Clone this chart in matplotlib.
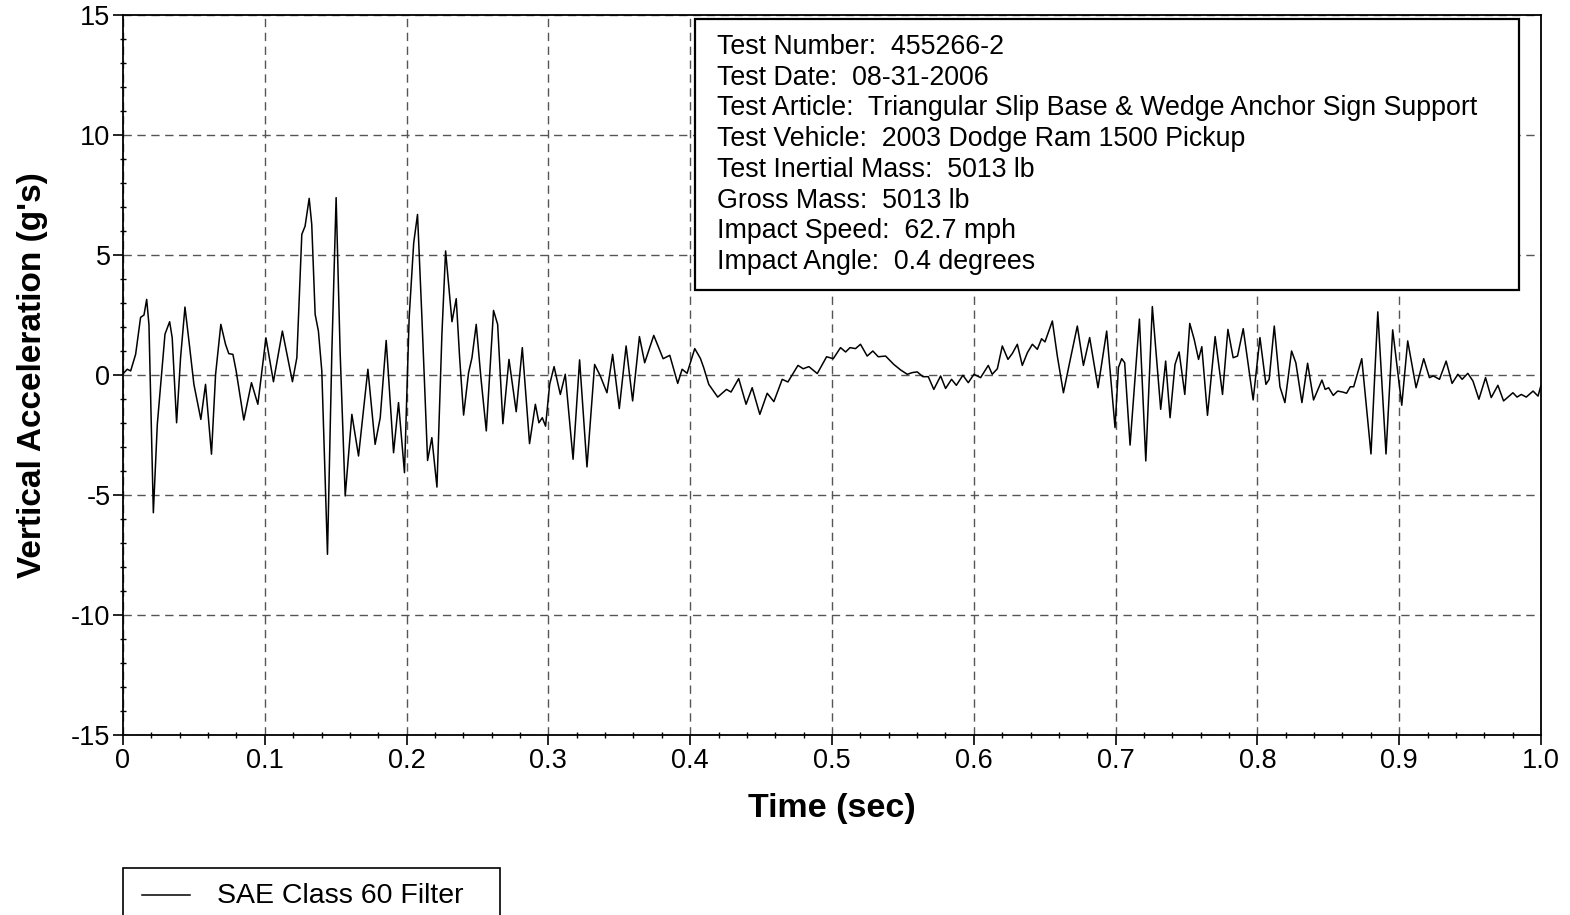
import matplotlib
matplotlib.use("Agg")
import matplotlib.pyplot as plt
from matplotlib.patches import Rectangle
from matplotlib.lines import Line2D
from matplotlib.ticker import MultipleLocator

plt.rcParams['font.family'] = ['Liberation Sans', 'DejaVu Sans']
plt.rcParams['axes.unicode_minus'] = False

# Vertical acceleration trace (SAE Class 60 filtered)
time_sec = [
    0.000, 0.003, 0.0054, 0.0089, 0.0124, 0.0148, 0.0167, 0.0183, 0.0214, 0.0242,
    0.0296, 0.0329, 0.0347, 0.0378, 0.0406, 0.0437, 0.0465, 0.0500, 0.0549, 0.0582,
    0.0624, 0.0653, 0.0690, 0.0723, 0.0746, 0.0775, 0.0798, 0.0852, 0.0906, 0.0951,
    0.1008, 0.1061, 0.1124, 0.1195, 0.1226, 0.1261, 0.1284, 0.1313, 0.1331, 0.1355,
    0.1378, 0.1402, 0.1442, 0.1473, 0.1503, 0.1531, 0.1567, 0.1614, 0.1661, 0.1727,
    0.1778, 0.1814, 0.1856, 0.1908, 0.1943, 0.1985, 0.2018, 0.2050, 0.2077, 0.2108,
    0.2148, 0.2178, 0.2214, 0.2249, 0.2275, 0.2296, 0.2320, 0.2350, 0.2374, 0.2402,
    0.2437, 0.2461, 0.2491, 0.2524, 0.2562, 0.2613, 0.2642, 0.2679, 0.2722, 0.2773,
    0.2816, 0.2867, 0.2908, 0.2933, 0.2957, 0.2980, 0.3009, 0.3040, 0.3084, 0.3119,
    0.3174, 0.3220, 0.3272, 0.3326, 0.3366, 0.3413, 0.3453, 0.3500, 0.3548, 0.3594,
    0.3642, 0.3679, 0.3743, 0.3809, 0.3856, 0.3912, 0.3943, 0.3978, 0.4032, 0.4072,
    0.4095, 0.4131, 0.4194, 0.4256, 0.4288, 0.4342, 0.4394, 0.4437, 0.4491, 0.4543,
    0.4590, 0.4649, 0.4689, 0.4760, 0.4797, 0.4837, 0.4896, 0.4962, 0.5009, 0.5060,
    0.5096, 0.5127, 0.5166, 0.5201, 0.5248, 0.5288, 0.5326, 0.5378, 0.5436, 0.5484,
    0.5531, 0.5566, 0.5601, 0.5641, 0.5679, 0.5718, 0.5766, 0.5801, 0.5843, 0.5877,
    0.5923, 0.5961, 0.6001, 0.6048, 0.6102, 0.6130, 0.6166, 0.6201, 0.6241, 0.6272,
    0.6307, 0.6342, 0.6378, 0.6413, 0.6448, 0.6478, 0.6502, 0.6554, 0.6589, 0.6632,
    0.6678, 0.6730, 0.6773, 0.6817, 0.6876, 0.6937, 0.6996, 0.7020, 0.7043, 0.7064,
    0.7102, 0.7168, 0.7213, 0.7259, 0.7318, 0.7353, 0.7384, 0.7419, 0.7448, 0.7488,
    0.7523, 0.7554, 0.7585, 0.7608, 0.7648, 0.7702, 0.7754, 0.7792, 0.7829, 0.7860,
    0.7900, 0.7970, 0.8018, 0.8060, 0.8083, 0.8119, 0.8159, 0.8194, 0.8241, 0.8271,
    0.8314, 0.8354, 0.8396, 0.8455, 0.8478, 0.8502, 0.8535, 0.8566, 0.8601, 0.8629,
    0.8655, 0.8679, 0.8736, 0.8801, 0.8849, 0.8907, 0.8954, 0.9018, 0.9060, 0.9119,
    0.9173, 0.9213, 0.9241, 0.9284, 0.9331, 0.9373, 0.9414, 0.9444, 0.9484, 0.9520,
    0.9562, 0.9609, 0.9649, 0.9696, 0.9736, 0.9802, 0.9831, 0.9861, 0.9896, 0.9944,
    0.9979, 1.0000,
]
accel_g = [
    0.05, 0.24, 0.17, 0.86, 2.40, 2.50, 3.15, 2.10, -5.74, -2.05,
    1.70, 2.22, 1.55, -1.99, 0.72, 2.83, 1.42, -0.39, -1.85, -0.39,
    -3.30, 0.03, 2.11, 1.28, 0.89, 0.86, 0.17, -1.875, -0.32, -1.22,
    1.55, -0.28, 1.83, -0.28, 0.72, 5.86, 6.20, 7.36, 6.28, 2.53,
    1.83, 0.17, -7.47, 1.00, 7.39, 1.00, -5.04, -1.64, -3.375, 0.24,
    -2.89, -1.78, 1.44, -3.24, -1.15, -4.07, 2.39, 5.50, 6.69, 2.39,
    -3.56, -2.61, -4.67, 1.69, 5.17, 3.78, 2.22, 3.18, 0.72, -1.67,
    0.10, 0.72, 2.11, -0.11, -2.33, 2.69, 2.11, -2.03, 0.65, -1.53,
    1.14, -2.86, -1.22, -1.99, -1.78, -2.13, -0.39, 0.35, -0.81, 0.03,
    -3.51, 0.63, -3.83, 0.44, -0.04, -0.74, 0.86, -1.40, 1.21, -1.08,
    1.60, 0.51, 1.65, 0.68, 0.82, -0.35, 0.24, 0.07, 1.10, 0.69,
    0.31, -0.39, -0.92, -0.60, -0.71, -0.15, -1.22, -0.53, -1.64, -0.76,
    -1.11, -0.18, -0.29, 0.40, 0.26, 0.35, 0.06, 0.76, 0.68, 1.14,
    0.96, 1.14, 1.10, 1.28, 0.79, 1.00, 0.76, 0.79, 0.44, 0.21,
    0.03, 0.10, 0.13, -0.07, -0.07, -0.60, -0.04, -0.56, -0.18, -0.43,
    -0.01, -0.32, 0.03, -0.11, 0.40, 0.03, 0.26, 1.21, 0.65, 0.90,
    1.28, 0.40, 0.93, 1.28, 1.07, 1.51, 1.38, 2.25, 0.79, -0.74,
    0.58, 2.04, 0.40, 1.56, -0.53, 1.83, -2.19, 0.31, 0.68, 0.51,
    -2.92, 2.33, -3.58, 2.85, -1.43, 0.58, -1.78, 0.44, 0.96, -0.81,
    2.15, 1.49, 0.65, 1.18, -1.68, 1.60, -0.81, 1.90, 0.72, 0.79,
    1.93, -1.04, 1.56, -0.39, -0.18, 2.04, -0.49, -1.15, 1.00, 0.51,
    -1.15, 0.49, -1.04, -0.21, -0.60, -0.53, -0.85, -0.67, -0.71, -0.76,
    -0.49, -0.49, 0.68, -3.29, 2.63, -3.29, 1.88, -1.26, 1.42, -0.53,
    0.68, -0.11, -0.04, -0.18, 0.58, -0.35, 0.03, -0.18, 0.07, -0.25,
    -1.01, -0.11, -0.94, -0.43, -1.08, -0.74, -0.92, -0.81, -0.92, -0.67,
    -0.88, -0.43,
]

x_ticks = [0, 0.1, 0.2, 0.3, 0.4, 0.5, 0.6, 0.7, 0.8, 0.9, 1.0]
x_tick_labels = ["0", "0.1", "0.2", "0.3", "0.4", "0.5", "0.6", "0.7", "0.8", "0.9", "1.0"]
y_ticks = [-15, -10, -5, 0, 5, 10, 15]

info_lines = [
    "Test Number:  455266-2",
    "Test Date:  08-31-2006",
    "Test Article:  Triangular Slip Base & Wedge Anchor Sign Support",
    "Test Vehicle:  2003 Dodge Ram 1500 Pickup",
    "Test Inertial Mass:  5013 lb",
    "Gross Mass:  5013 lb",
    "Impact Speed:  62.7 mph",
    "Impact Angle:  0.4 degrees",
]
legend_label = "SAE Class 60 Filter"

W, H = 1570, 915
fig = plt.figure(figsize=(W / 100, H / 100), dpi=100)
ax = fig.add_axes([123 / W, 1 - 735 / H, (1541 - 123) / W, 720 / H])

ax.plot(time_sec, accel_g, color="black", lw=1.1, label=legend_label)

ax.set_xlim(0, 1.0)
ax.set_ylim(-15, 15)
ax.set_xticks(x_ticks)
ax.set_xticklabels(x_tick_labels)
ax.set_yticks(y_ticks)
ax.yaxis.set_minor_locator(MultipleLocator(1))
ax.xaxis.set_minor_locator(MultipleLocator(0.02))
ax.tick_params(axis="both", which="major", direction="out", length=7, width=1.2,
               labelsize=19.5, pad=2)
ax.tick_params(axis="both", which="minor", direction="inout", length=5, width=1.0)
ax.grid(True, which="major", color="#555555", linestyle=(0, (6, 4)), linewidth=1.0)
for s in ax.spines.values():
    s.set_linewidth(1.3)

ax.set_xlabel("Time (sec)", fontsize=24.5, fontweight="bold", labelpad=14)
ax.set_ylabel("Vertical Acceleration (g's)", fontsize=24, fontweight="bold", labelpad=17)

# Test information box
fig.add_artist(Rectangle((695 / W, 1 - 290 / H), (1519 - 695) / W, (290 - 19) / H,
                         transform=fig.transFigure, fill=True, facecolor="white",
                         edgecolor="black", linewidth=1.6, zorder=5))
for i, line in enumerate(info_lines):
    fig.text(717 / W, 1 - (47 + i * 30.7) / H, line, fontsize=19.3,
             va="center", ha="left", zorder=6)

# Legend box under the axes
fig.add_artist(Rectangle((123 / W, -0.01), (500 - 123) / W, 0.01 + (915 - 868) / H,
                         transform=fig.transFigure, fill=False, edgecolor="black",
                         linewidth=1.2))
fig.add_artist(Line2D([142 / W, 190 / W], [1 - 895 / H, 1 - 895 / H],
                      transform=fig.transFigure, color="black", lw=1.1))
fig.text(217 / W, 1 - 896 / H, legend_label, fontsize=20.5, va="center", ha="left")

fig.savefig("out.png", dpi=100)
